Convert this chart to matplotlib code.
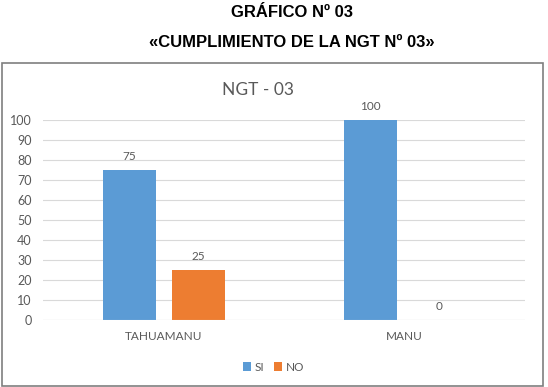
import matplotlib.pyplot as plt
from matplotlib.patches import Rectangle
import numpy as np

categories = ['TAHUAMANU', 'MANU']
si_values = [75, 100]
no_values = [25, 0]
yticks = [0, 10, 20, 30, 40, 50, 60, 70, 80, 90, 100]

blue = '#5B9BD5'
orange = '#ED7D31'
grey = '#595959'

fig = plt.figure(figsize=(5.48, 3.87), dpi=100)

# heading above the chart box
fig.text(0.533, 0.968, 'GRÁFICO Nº 03', ha='center', va='center',
         fontsize=12, fontweight='bold', family='Liberation Sans')
fig.text(0.533, 0.891, '«CUMPLIMIENTO DE LA NGT Nº 03»', ha='center', va='center',
         fontsize=12, fontweight='bold', family='Liberation Sans')

# chart border
fig.patches.append(Rectangle((0.004, 0.003), 0.987, 0.835, transform=fig.transFigure,
                             fill=False, edgecolor='#7F7F7F', linewidth=1.2))

ax = fig.add_axes([0.0785, 0.173, 0.88, 0.517])
x = np.arange(len(categories))
w = 0.22
off = 0.143
b1 = ax.bar(x - off, si_values, w, color=blue, label='SI')
b2 = ax.bar(x + off, no_values, w, color=orange, label='NO')

for bars in (b1, b2):
    for b in bars:
        ax.text(b.get_x() + b.get_width() / 2, b.get_height() + 4, f'{b.get_height():g}',
                ha='center', va='bottom', fontsize=8.5, color=grey, family='Lato')

ax.set_xlim(-0.5, 1.5)
ax.set_ylim(0, 100)
ax.set_yticks(yticks)
ax.set_xticks(x)
ax.set_xticklabels(categories)
ax.tick_params(length=0, labelsize=9, colors=grey)
ax.tick_params(axis='y', pad=8)
ax.tick_params(axis='x', pad=8, labelsize=8.5)
for lab in ax.get_xticklabels() + ax.get_yticklabels():
    lab.set_family('Lato')
ax.grid(axis='y', color='#D9D9D9', linewidth=0.8)
ax.set_axisbelow(True)
for s in ax.spines.values():
    s.set_visible(False)
ax.axhline(0, color='#D9D9D9', linewidth=0.8)

ax.set_title('NGT - 03', fontsize=12.5, color=grey, family='Lato', pad=18, x=0.445)

leg = ax.legend(loc='upper center', bbox_to_anchor=(0.478, -0.155), ncol=2, frameon=False,
                handlelength=0.7, handleheight=0.7, handletextpad=0.3,
                columnspacing=0.8, prop={'family': 'Lato', 'size': 8.5})
for t in leg.get_texts():
    t.set_color(grey)

plt.savefig('out.png', dpi=100)
